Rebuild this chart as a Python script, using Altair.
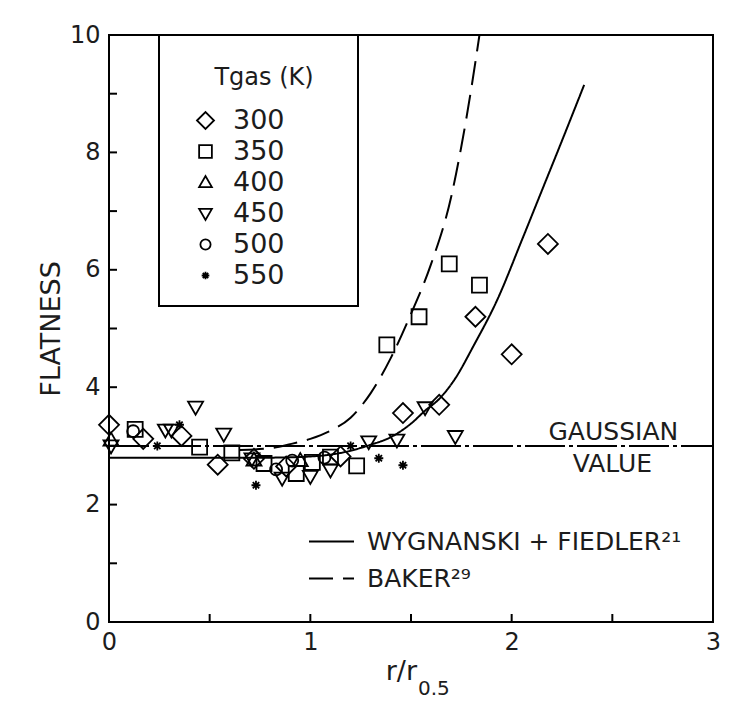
import altair as alt
import pandas as pd

FONT = "DejaVu Sans"
INK = "#1c1c1c"
W, H = 604, 587

# ---------------- data ----------------
temps = ["300", "350", "400", "450", "500", "550"]

x300 = [0.00, 0.17, 0.36, 0.54, 0.72, 0.88, 1.15, 1.46, 1.64, 1.82, 2.00, 2.18]
y300 = [3.36, 3.12, 3.17, 2.68, 2.78, 2.65, 2.82, 3.56, 3.70, 5.20, 4.56, 6.44]

x350 = [0.13, 0.45, 0.61, 0.77, 0.93, 1.01, 1.10, 1.23, 1.38, 1.54, 1.69, 1.84]
y350 = [3.28, 2.98, 2.88, 2.70, 2.53, 2.72, 2.81, 2.66, 4.72, 5.20, 6.10, 5.74]

x400 = [0.01, 0.72, 0.95]
y400 = [3.10, 2.76, 2.75]

x450 = [0.01, 0.28, 0.31, 0.43, 0.57, 0.71, 0.86, 1.00, 1.10, 1.29, 1.43, 1.57, 1.72]
y450 = [3.00, 3.27, 3.27, 3.66, 3.20, 2.78, 2.45, 2.48, 2.59, 3.07, 3.10, 3.65, 3.16]

x500 = [0.12, 0.83, 0.91, 1.07]
y500 = [3.25, 2.60, 2.75, 2.80]

x550 = [0.24, 0.35, 0.73, 1.20, 1.34, 1.46]
y550 = [3.00, 3.36, 2.33, 3.00, 2.79, 2.67]

wf_name = "WYGNANSKI + FIEDLER\u00b2\u00b9"
wf_x = [0.0, 0.4, 0.8, 1.0, 1.15, 1.3, 1.4, 1.5, 1.57, 1.64, 1.72, 1.81, 1.93, 2.05, 2.15, 2.25, 2.36]
wf_y = [2.8, 2.8, 2.8, 2.82, 2.88, 3.02, 3.15, 3.38, 3.6, 3.8, 4.15, 4.7, 5.5, 6.5, 7.35, 8.2, 9.15]

baker_name = "BAKER\u00b2\u2079"
baker_x = [0.65, 0.8, 0.9, 1.0, 1.1, 1.2, 1.3, 1.4, 1.5, 1.6, 1.7, 1.75, 1.8, 1.84]
baker_y = [2.93, 2.96, 3.03, 3.12, 3.26, 3.48, 3.9, 4.5, 5.25, 6.1, 7.25, 8.1, 9.1, 10.0]

gauss_x = [0.0, 3.0]
gauss_y = [3.0, 3.0]

notes = ["GAUSSIAN", "VALUE"]
notes_x = [2.505, 2.50]
notes_y = [3.24, 2.69]

key_title = "Tgas (K)"
x_title_main = "r/r"
x_title_sub = "0.5"
y_title = "FLATNESS"

x_ticks_major = [0, 1, 2, 3]
x_ticks_minor = [0, 0.5, 1, 1.5, 2, 2.5, 3]
y_ticks_major = [0, 2, 4, 6, 8, 10]
y_ticks_minor = list(range(11))

# marker outlines (diamond, square, triangle up, triangle down, circle, asterisk)
shape_paths = [
    "M-1,0L0,-1L1,0L0,1Z",
    "M-0.75,-0.75L0.75,-0.75L0.75,0.75L-0.75,0.75Z",
    "M-0.75,0.55L0.75,0.55L0,-0.75Z",
    "M-0.75,-0.55L0.75,-0.55L0,0.75Z",
    "M0.6,0A0.6,0.6,0,1,1,-0.6,0A0.6,0.6,0,1,1,0.6,0Z",
    "M-0.45,0L0.45,0M0,-0.45L0,0.45M-0.32,-0.32L0.32,0.32M-0.32,0.32L0.32,-0.32",
]

# ---------------- tables ----------------
rows = []
for t, xv, yv in zip(temps, [x300, x350, x400, x450, x500, x550],
                     [y300, y350, y400, y450, y500, y550]):
    for a, b in zip(xv, yv):
        rows.append({"x": a, "y": b, "T": t})
pts = pd.DataFrame(rows)

curves = pd.concat([
    pd.DataFrame({"x": wf_x, "y": wf_y, "model": wf_name}),
    pd.DataFrame({"x": baker_x, "y": baker_y, "model": baker_name}),
])
gauss = pd.DataFrame({"x": gauss_x, "y": gauss_y})
notes_df = pd.DataFrame({"x": notes_x, "y": notes_y, "t": notes})

xs = alt.Scale(domain=[0, 3], nice=False, zero=False)
ys = alt.Scale(domain=[0, 10], nice=False, zero=False)

AX = alt.Axis(
    orient="bottom", values=x_ticks_major, ticks=False, domain=False,
    grid=False, labelFont=FONT, labelFontSize=24, labelColor=INK,
    labelPadding=8, labelFlush=False, title=None, format="d")
AY = alt.Axis(
    orient="left", values=y_ticks_major, ticks=False, domain=False,
    grid=False, labelFont=FONT, labelFontSize=24, labelColor=INK,
    labelPadding=9, labelFlush=False, format="d", title=y_title,
    titleFont=FONT, titleFontSize=27, titleFontWeight="normal",
    titleColor=INK, titlePadding=4)

# ---------------- layers ----------------
gauss_layer = alt.Chart(gauss).mark_line(
    color="black", strokeWidth=2, strokeDash=[40, 4, 4, 4]
).encode(
    x=alt.X("x:Q", scale=xs, axis=AX),
    y=alt.Y("y:Q", scale=ys, axis=AY),
)

curve_layer = alt.Chart(curves).mark_line(
    color="black", strokeWidth=2, interpolate="monotone"
).encode(
    x=alt.X("x:Q", scale=xs, axis=AX),
    y=alt.Y("y:Q", scale=ys, axis=AY),
    strokeDash=alt.StrokeDash(
        "model:N",
        scale=alt.Scale(domain=[wf_name, baker_name], range=[[1, 0], [24, 10]]),
        legend=alt.Legend(
            orient="none", legendX=199, legendY=483, title=None,
            symbolType="stroke", symbolSize=2025, symbolStrokeWidth=2,
            symbolStrokeColor="black", labelFont=FONT, labelFontSize=25,
            labelColor=INK, labelOffset=12, rowPadding=-7, padding=0,
            labelLimit=600,
        ),
    ),
)

# inward tick marks along the bottom and left edges
xtick_layer = alt.Chart(pd.DataFrame({"v": x_ticks_minor})).mark_rule(
    color="black", strokeWidth=2
).encode(
    x=alt.X("v:Q", scale=xs, axis=AX),
    y=alt.value(H), y2=alt.value(H - 8),
)
ytick_layer = alt.Chart(pd.DataFrame({"v": y_ticks_minor})).mark_rule(
    color="black", strokeWidth=2
).encode(
    y=alt.Y("v:Q", scale=ys, axis=AY),
    x=alt.value(0), x2=alt.value(8),
)

point_layer = alt.Chart(pts).mark_point(
    filled=False, color="black", strokeWidth=1.8, size=400, opacity=1
).encode(
    x=alt.X("x:Q", scale=xs, axis=AX),
    y=alt.Y("y:Q", scale=ys, axis=AY),
    shape=alt.Shape(
        "T:N",
        scale=alt.Scale(domain=temps, range=shape_paths),
        legend=alt.Legend(
            title=None, orient="none", legendX=83, legendY=72,
            padding=0,
            labelFont=FONT, labelFontSize=27, labelColor=INK, labelOffset=14,
            symbolSize=289, symbolStrokeWidth=1.8, symbolStrokeColor="black",
            rowPadding=3,
        ),
    ),
)

# frame and heading of the marker key
key_frame = alt.Chart(pd.DataFrame({"k": [0]})).mark_rect(
    fill="transparent", stroke="black", strokeWidth=2
).encode(x=alt.value(50), x2=alt.value(249), y=alt.value(0), y2=alt.value(271))
key_head = alt.Chart(pd.DataFrame({"t": [key_title]})).mark_text(
    font=FONT, fontSize=24, color=INK, align="center", baseline="middle"
).encode(x=alt.value(155), y=alt.value(43), text="t:N")

note_layer = alt.Chart(notes_df).mark_text(
    font=FONT, fontSize=25, color=INK, align="center", baseline="middle"
).encode(
    x=alt.X("x:Q", scale=xs, axis=AX),
    y=alt.Y("y:Q", scale=ys, axis=AY),
    text="t:N",
)

xt1 = alt.Chart(pd.DataFrame({"t": [x_title_main]})).mark_text(
    font=FONT, fontSize=27, color=INK, align="right", baseline="alphabetic"
).encode(x=alt.value(308), y=alt.value(645), text="t:N")
xt2 = alt.Chart(pd.DataFrame({"t": [x_title_sub]})).mark_text(
    font=FONT, fontSize=20, color=INK, align="left", baseline="alphabetic"
).encode(x=alt.value(309), y=alt.value(660), text="t:N")

chart = alt.layer(
    gauss_layer, curve_layer, xtick_layer, ytick_layer,
    point_layer, note_layer, key_frame, key_head, xt1, xt2
).properties(
    width=W, height=H,
    padding={"left": 101, "top": 27, "right": 35, "bottom": 84},
    autosize=alt.AutoSizeParams(type="none"),
    background="white",
).configure_view(
    stroke="black", strokeWidth=2
)

chart.save("out.html", embed_options={"renderer": "svg", "actions": False})
